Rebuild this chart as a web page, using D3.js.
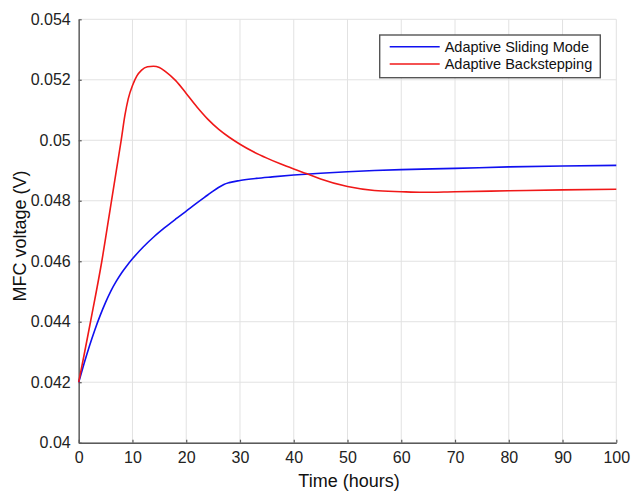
<!DOCTYPE html>
<html>
<head>
<meta charset="utf-8">
<script src="https://cdn.jsdelivr.net/npm/d3@7"></script>
<style>
  html, body { margin: 0; padding: 0; background: #fff; }
  svg { display: block; font-family: "Liberation Sans", Arial, Helvetica, sans-serif; }
</style>
</head>
<body>
<svg id="chart" width="633" height="491"></svg>
<script>
// Time axis (hours) and MFC voltage (V) for the two controllers
const slidingTime = [0, 1, 2, 3, 4, 5, 6, 7, 8, 9, 10, 12, 14, 16, 18, 20, 22, 24, 25, 26, 27, 28, 30, 33, 36, 40, 45, 50, 55, 60, 70, 80, 90, 100];
const slidingVoltage = [0.04200, 0.04262, 0.04320, 0.04373, 0.04421, 0.04464, 0.04502, 0.04534, 0.04562, 0.04586, 0.04608, 0.04647, 0.04681, 0.04711, 0.04739, 0.04766, 0.04793, 0.04819, 0.04832, 0.04844, 0.04854, 0.04860, 0.04867, 0.04874, 0.04879, 0.04885, 0.04891, 0.04896, 0.04900, 0.04903, 0.04907, 0.04912, 0.04915, 0.04917];

const backsteppingTime = [0, 1, 2.2, 4.3, 6.1, 7.0, 7.9, 8.6, 9.2, 10.05, 10.8, 11.7, 12.8, 13.9, 15, 16.1, 18, 20, 22, 24, 26, 28, 30, 32.5, 35, 37.5, 40, 42.5, 45, 50, 55, 60, 64, 70, 80, 90, 100];
const backsteppingVoltage = [0.04200, 0.04290, 0.04400, 0.04600, 0.04800, 0.04900, 0.05000, 0.05083, 0.05136, 0.05183, 0.05212, 0.05232, 0.05243, 0.05245, 0.05241, 0.05228, 0.05198, 0.05155, 0.05110, 0.05070, 0.05037, 0.05010, 0.04987, 0.04962, 0.04941, 0.04922, 0.04905, 0.04889, 0.04872, 0.04847, 0.04834, 0.04830, 0.04828, 0.04830, 0.04833, 0.04836, 0.04838];

const seriesNames = ["Adaptive Sliding Mode", "Adaptive Backstepping"];
const seriesColors = ["#1010f0", "#f01818"];

const xTicks = [0, 10, 20, 30, 40, 50, 60, 70, 80, 90, 100];
const yTicks = [0.04, 0.042, 0.044, 0.046, 0.048, 0.05, 0.052, 0.054];
const yTickLabels = ["0.04", "0.042", "0.044", "0.046", "0.048", "0.05", "0.052", "0.054"];

const xTitle = "Time (hours)";
const yTitle = "MFC voltage (V)";

// Plot frame
const plot = { left: 78.7, right: 616.3, top: 19.3, bottom: 442.7 };

const svg = d3.select("#chart");

const x = d3.scaleLinear().domain([0, 100]).range([plot.left, plot.right]);
const y = d3.scaleLinear().domain([0.04, 0.054]).range([plot.bottom, plot.top]);

// Grid
const grid = svg.append("g").attr("stroke", "#e2e2e2").attr("stroke-width", 1);
grid.selectAll("line.gx").data(xTicks).join("line")
  .attr("x1", d => x(d)).attr("x2", d => x(d))
  .attr("y1", plot.top).attr("y2", plot.bottom);
grid.selectAll("line.gy").data(yTicks).join("line")
  .attr("x1", plot.left).attr("x2", plot.right)
  .attr("y1", d => y(d)).attr("y2", d => y(d));

// Axes (ticks drawn inward)
const xAxis = d3.axisBottom(x).tickValues(xTicks).tickSizeInner(-3).tickSizeOuter(0).tickPadding(9);
const yAxis = d3.axisLeft(y).tickValues(yTicks).tickSizeInner(-3).tickSizeOuter(0).tickPadding(8)
  .tickFormat((d, i) => yTickLabels[i]);

const gx = svg.append("g").attr("transform", `translate(0,${plot.bottom})`).call(xAxis);
const gy = svg.append("g").attr("transform", `translate(${plot.left},0)`).call(yAxis);

[gx, gy].forEach(g => {
  g.select(".domain").attr("stroke", "#5a5a5a").attr("stroke-width", 1.4);
  g.selectAll(".tick line").attr("stroke", "#5a5a5a").attr("stroke-width", 1.2);
  g.selectAll(".tick text").attr("fill", "#222").attr("font-size", 16)
    .attr("font-family", "'Liberation Sans', Arial, Helvetica, sans-serif");
});

// Series lines
const line = d3.line()
  .x(d => x(d[0]))
  .y(d => y(d[1]))
  .curve(d3.curveMonotoneX);

const series = [
  d3.zip(slidingTime, slidingVoltage),
  d3.zip(backsteppingTime, backsteppingVoltage)
];

svg.append("g").selectAll("path").data(series).join("path")
  .attr("d", line)
  .attr("fill", "none")
  .attr("stroke", (d, i) => seriesColors[i])
  .attr("stroke-width", 1.6)
  .attr("stroke-linejoin", "round");

// Axis titles
svg.append("text")
  .attr("x", (plot.left + plot.right) / 2 + 1.5)
  .attr("y", 486.5)
  .attr("text-anchor", "middle")
  .attr("font-size", 18)
  .attr("fill", "#111")
  .text(xTitle);

svg.append("text")
  .attr("transform", `translate(25.5,${236}) rotate(-90)`)
  .attr("text-anchor", "middle")
  .attr("font-size", 18)
  .attr("fill", "#111")
  .text(yTitle);

// Legend
const legend = svg.append("g");
legend.append("rect")
  .attr("x", 379.7).attr("y", 35)
  .attr("width", 220.6).attr("height", 42.7)
  .attr("fill", "#fff")
  .attr("stroke", "#555")
  .attr("stroke-width", 1.4);

const rows = legend.selectAll("g.row").data(seriesNames).join("g")
  .attr("transform", (d, i) => `translate(0,${46.7 + i * 17.3})`);
rows.append("line")
  .attr("x1", 389.7).attr("x2", 439.7)
  .attr("y1", 0).attr("y2", 0)
  .attr("stroke", (d, i) => seriesColors[i])
  .attr("stroke-width", 1.6);
rows.append("text")
  .attr("x", 444.7)
  .attr("y", 0)
  .attr("dy", "0.35em")
  .attr("font-size", 14.5)
  .attr("fill", "#111")
  .text(d => d);
</script>
</body>
</html>
